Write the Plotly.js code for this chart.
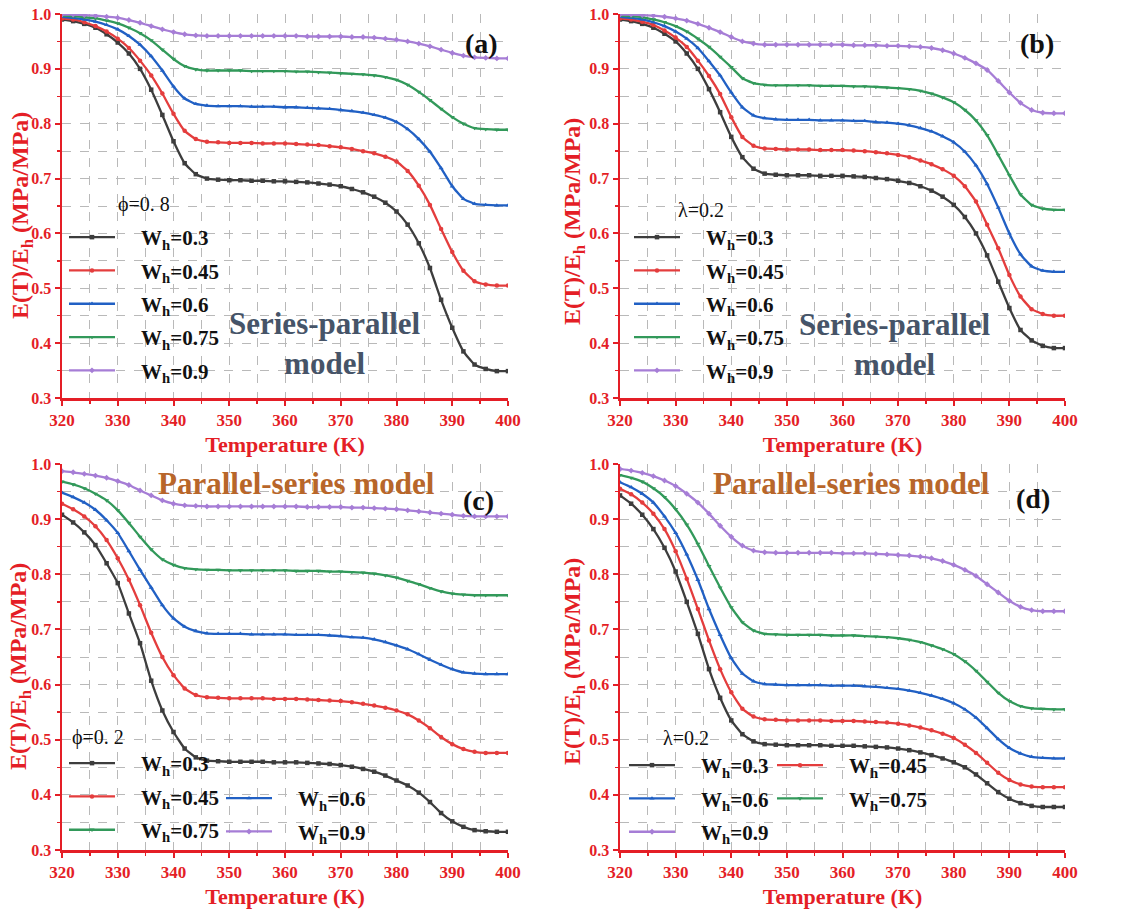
<!DOCTYPE html>
<html>
<head>
<meta charset="utf-8">
<script src="https://cdn.plot.ly/plotly-3.0.1.min.js"></script>
<style>html,body{margin:0;padding:0;background:#fff;}#chart{width:1121px;height:911px;}</style>
</head>
<body>
<div id="chart"></div>
<script>
// Temperature (K)
const temps = [320,322,324,326,328,330,332,334,336,338,340,342,344,346,348,350,352,354,356,358,360,362,364,366,368,370,372,374,376,378,380,382,384,386,388,390,392,394,396,398,400];
const seriesLabels = ['W<sub>h</sub>=0.3','W<sub>h</sub>=0.45','W<sub>h</sub>=0.6','W<sub>h</sub>=0.75','W<sub>h</sub>=0.9'];

// (a) Series-parallel model, phi = 0.8
const a_w030 = [0.990,0.987,0.982,0.975,0.963,0.948,0.928,0.900,0.862,0.816,0.768,0.728,0.708,0.700,0.698,0.697,0.697,0.696,0.696,0.695,0.695,0.694,0.693,0.691,0.689,0.686,0.681,0.675,0.667,0.656,0.640,0.616,0.582,0.537,0.479,0.428,0.385,0.361,0.353,0.349,0.349];
const a_w045 = [0.992,0.990,0.985,0.978,0.968,0.955,0.938,0.915,0.888,0.855,0.818,0.787,0.772,0.767,0.766,0.765,0.765,0.765,0.764,0.764,0.764,0.763,0.762,0.761,0.759,0.757,0.754,0.750,0.746,0.740,0.731,0.714,0.687,0.652,0.608,0.566,0.532,0.513,0.507,0.505,0.505];
const a_w060 = [0.995,0.993,0.990,0.986,0.980,0.972,0.960,0.944,0.923,0.897,0.868,0.846,0.836,0.833,0.832,0.832,0.832,0.831,0.831,0.831,0.830,0.830,0.829,0.828,0.827,0.825,0.823,0.820,0.816,0.811,0.803,0.790,0.772,0.749,0.719,0.686,0.663,0.654,0.652,0.651,0.651];
const a_w075 = [0.997,0.996,0.994,0.992,0.988,0.983,0.975,0.965,0.952,0.935,0.918,0.905,0.899,0.897,0.897,0.897,0.897,0.896,0.896,0.896,0.896,0.895,0.895,0.894,0.893,0.892,0.891,0.890,0.888,0.885,0.880,0.871,0.858,0.843,0.827,0.812,0.800,0.792,0.790,0.789,0.789];
const a_w090 = [0.999,0.999,0.998,0.997,0.995,0.993,0.989,0.984,0.978,0.972,0.967,0.963,0.961,0.960,0.960,0.960,0.960,0.960,0.960,0.960,0.960,0.960,0.959,0.959,0.959,0.959,0.958,0.958,0.957,0.955,0.953,0.950,0.946,0.941,0.935,0.929,0.924,0.921,0.920,0.919,0.919];

// (b) Series-parallel model, lambda = 0.2
const b_w030 = [0.990,0.987,0.982,0.975,0.964,0.950,0.928,0.900,0.863,0.821,0.776,0.739,0.718,0.709,0.707,0.706,0.706,0.706,0.705,0.705,0.705,0.704,0.703,0.701,0.699,0.696,0.692,0.686,0.678,0.667,0.652,0.630,0.600,0.560,0.512,0.464,0.424,0.405,0.395,0.391,0.391];
const b_w045 = [0.992,0.990,0.986,0.980,0.970,0.957,0.940,0.915,0.887,0.854,0.812,0.776,0.760,0.755,0.754,0.753,0.753,0.753,0.752,0.752,0.752,0.751,0.750,0.748,0.746,0.743,0.739,0.733,0.726,0.717,0.705,0.686,0.658,0.616,0.573,0.524,0.485,0.462,0.453,0.450,0.450];
const b_w060 = [0.995,0.993,0.990,0.985,0.978,0.968,0.955,0.938,0.914,0.888,0.857,0.830,0.815,0.810,0.808,0.807,0.807,0.807,0.806,0.806,0.806,0.805,0.805,0.803,0.802,0.800,0.797,0.792,0.786,0.777,0.766,0.749,0.724,0.690,0.647,0.600,0.562,0.540,0.532,0.530,0.530];
const b_w075 = [0.997,0.996,0.994,0.990,0.985,0.978,0.968,0.955,0.940,0.922,0.903,0.883,0.874,0.871,0.870,0.870,0.870,0.870,0.869,0.869,0.869,0.868,0.868,0.867,0.866,0.865,0.863,0.860,0.855,0.848,0.839,0.825,0.806,0.779,0.743,0.706,0.671,0.652,0.645,0.643,0.643];
const b_w090 = [0.999,0.999,0.998,0.997,0.995,0.992,0.988,0.982,0.975,0.967,0.958,0.950,0.946,0.944,0.944,0.944,0.944,0.944,0.944,0.944,0.944,0.943,0.943,0.943,0.942,0.942,0.941,0.940,0.938,0.934,0.928,0.920,0.910,0.898,0.878,0.857,0.838,0.825,0.820,0.819,0.819];

// (c) Parallel-series model, phi = 0.2
const c_w030 = [0.908,0.894,0.876,0.853,0.820,0.784,0.729,0.675,0.607,0.553,0.514,0.484,0.468,0.462,0.461,0.460,0.460,0.460,0.460,0.459,0.459,0.459,0.458,0.457,0.456,0.454,0.451,0.447,0.442,0.435,0.426,0.417,0.404,0.387,0.367,0.352,0.342,0.336,0.334,0.333,0.333];
const c_w045 = [0.928,0.918,0.905,0.887,0.862,0.829,0.790,0.744,0.694,0.650,0.617,0.593,0.581,0.577,0.576,0.575,0.575,0.575,0.575,0.574,0.574,0.574,0.573,0.572,0.571,0.570,0.568,0.565,0.562,0.558,0.553,0.546,0.535,0.521,0.505,0.492,0.483,0.478,0.476,0.476,0.476];
const c_w060 = [0.948,0.940,0.930,0.917,0.898,0.875,0.842,0.808,0.776,0.744,0.720,0.705,0.697,0.693,0.692,0.692,0.692,0.691,0.691,0.691,0.691,0.690,0.690,0.690,0.689,0.688,0.686,0.685,0.682,0.677,0.671,0.664,0.655,0.645,0.636,0.628,0.622,0.620,0.619,0.619,0.619];
const c_w075 = [0.968,0.963,0.956,0.946,0.934,0.916,0.893,0.868,0.845,0.827,0.817,0.811,0.809,0.808,0.808,0.807,0.807,0.807,0.807,0.807,0.807,0.806,0.806,0.806,0.805,0.805,0.804,0.803,0.801,0.798,0.794,0.788,0.782,0.775,0.769,0.765,0.763,0.762,0.762,0.762,0.762];
const c_w090 = [0.987,0.985,0.982,0.979,0.975,0.969,0.962,0.952,0.943,0.934,0.928,0.925,0.924,0.923,0.923,0.923,0.923,0.923,0.923,0.923,0.923,0.923,0.922,0.922,0.922,0.922,0.921,0.921,0.920,0.919,0.918,0.916,0.914,0.912,0.910,0.908,0.906,0.905,0.905,0.905,0.905];

// (d) Parallel-series model, lambda = 0.2
const d_w030 = [0.943,0.928,0.908,0.882,0.848,0.805,0.750,0.692,0.628,0.576,0.535,0.510,0.497,0.492,0.491,0.490,0.490,0.490,0.490,0.489,0.489,0.489,0.488,0.487,0.486,0.484,0.481,0.477,0.472,0.466,0.459,0.450,0.437,0.421,0.405,0.393,0.385,0.380,0.378,0.378,0.378];
const d_w045 = [0.955,0.945,0.930,0.910,0.882,0.842,0.792,0.737,0.680,0.628,0.586,0.556,0.542,0.537,0.536,0.535,0.535,0.535,0.535,0.534,0.534,0.534,0.533,0.532,0.531,0.529,0.526,0.522,0.517,0.511,0.503,0.491,0.476,0.458,0.440,0.427,0.419,0.415,0.414,0.414,0.414];
const d_w060 = [0.967,0.958,0.946,0.930,0.905,0.875,0.836,0.790,0.737,0.690,0.648,0.620,0.606,0.601,0.600,0.599,0.599,0.599,0.599,0.598,0.598,0.598,0.597,0.596,0.594,0.592,0.589,0.585,0.580,0.574,0.566,0.555,0.540,0.521,0.501,0.485,0.475,0.469,0.467,0.466,0.466];
const d_w075 = [0.980,0.975,0.968,0.956,0.940,0.918,0.890,0.855,0.815,0.776,0.740,0.713,0.698,0.692,0.691,0.690,0.690,0.690,0.690,0.689,0.689,0.689,0.688,0.687,0.686,0.684,0.681,0.677,0.671,0.664,0.655,0.642,0.625,0.605,0.585,0.570,0.561,0.557,0.556,0.555,0.555];
const d_w090 = [0.991,0.988,0.984,0.978,0.970,0.960,0.946,0.930,0.910,0.888,0.868,0.852,0.843,0.840,0.839,0.839,0.839,0.839,0.839,0.839,0.838,0.838,0.838,0.837,0.836,0.835,0.834,0.832,0.829,0.824,0.817,0.808,0.797,0.782,0.767,0.752,0.741,0.735,0.733,0.733,0.733];

const xTickVals = [320,330,340,350,360,370,380,390,400];
const yTickVals = [0.3,0.4,0.5,0.6,0.7,0.8,0.9,1.0];
const yTickText = ['0.3','0.4','0.5','0.6','0.7','0.8','0.9','1.0'];
const xTitle = 'Temperature (K)';
const yTitle = 'E(T)/E<sub>h</sub> (MPa/MPa)';

const W = 1121, H = 911;
const FONT = 'Liberation Serif';
const RED = '#e41e26', BLUE = '#1e22d8';
const colors = ['#3d3d3d','#e43d3d','#2160c4','#32995a','#a67dd6'];
const symbols = ['square','circle','triangle-up','triangle-down','diamond'];

const panels = [
  {series:[a_w030,a_w045,a_w060,a_w075,a_w090], xa:'x', ya:'y', legends:['legend','legend','legend','legend','legend']},
  {series:[b_w030,b_w045,b_w060,b_w075,b_w090], xa:'x2', ya:'y2', legends:['legend2','legend2','legend2','legend2','legend2']},
  {series:[c_w030,c_w045,c_w060,c_w075,c_w090], xa:'x3', ya:'y3', legends:['legend3','legend3','legend4','legend3','legend4']},
  {series:[d_w030,d_w045,d_w060,d_w075,d_w090], xa:'x4', ya:'y4', legends:['legend5','legend6','legend5','legend6','legend5']}
];

const GAP = '\u2002\u2002';
const traces = [];
panels.forEach((p, pi) => {
  p.series.forEach((vals, si) => {
    traces.push({
      x: temps, y: vals, xaxis: p.xa, yaxis: p.ya,
      type: 'scatter', mode: 'lines+markers',
      name: GAP + seriesLabels[si],
      legend: p.legends[si],
      legendgroup: 'p' + pi + 's' + si,
      line: {color: colors[si], width: 2.3, shape: 'spline', smoothing: 0.4},
      marker: {color: colors[si], size: 4.5, symbol: symbols[si]}
    });
  });
});

const px = v => v / W;
const py = v => 1 - v / H;

const xDom = [[px(62), px(508)], [px(620), px(1065)]];
const yDom = [[py(398), py(14)], [py(850), py(464)]];

function mainX(dom, anchor) {
  return {
    domain: dom, anchor: anchor, range: [320, 400], tickmode: 'array', tickvals: xTickVals,
    ticks: 'outside', ticklen: 5, tickwidth: 2, tickcolor: RED,
    showline: true, linecolor: RED, linewidth: 2.5, zeroline: false,
    showgrid: true, gridcolor: '#b9b9b9', gridwidth: 1, griddash: 'dash',
    minor: {dtick: 5, tick0: 320, ticks: 'outside', ticklen: 3, tickwidth: 1.5, tickcolor: RED, showgrid: true, gridcolor: '#b9b9b9', gridwidth: 1, griddash: 'dash'},
    tickfont: {family: FONT, size: 17, color: RED, weight: 'bold'},
    title: {text: xTitle, font: {family: FONT, size: 22, color: RED, weight: 'bold'}, standoff: 8}
  };
}
function mainY(dom, anchor) {
  return {
    domain: dom, anchor: anchor, range: [0.3, 1.0], tickmode: 'array', tickvals: yTickVals, ticktext: yTickText,
    ticks: 'outside', ticklen: 5, tickwidth: 2, tickcolor: RED,
    showline: true, linecolor: RED, linewidth: 2.5, zeroline: false,
    showgrid: true, gridcolor: '#b9b9b9', gridwidth: 1, griddash: 'dash',
    minor: {dtick: 0.05, tick0: 0.3, ticks: 'outside', ticklen: 3, tickwidth: 1.5, tickcolor: RED, showgrid: true, gridcolor: '#b9b9b9', gridwidth: 1, griddash: 'dash'},
    tickfont: {family: FONT, size: 16, color: RED, weight: 'bold'}
  };
}
function topX(over, anchor) {
  return {
    overlaying: over, anchor: anchor, side: 'top', range: [320, 400], tickmode: 'array', tickvals: xTickVals,
    ticks: 'inside', ticklen: 5, tickwidth: 2, tickcolor: BLUE, showticklabels: false,
    showline: true, linecolor: BLUE, linewidth: 2.5, zeroline: false, showgrid: false,
    minor: {dtick: 5, tick0: 320, ticks: 'inside', ticklen: 3, tickwidth: 1.5, tickcolor: BLUE, showgrid: false}
  };
}
function rightY(over, anchor) {
  return {
    overlaying: over, anchor: anchor, side: 'right', range: [0.3, 1.0], tickmode: 'array', tickvals: yTickVals,
    ticks: 'inside', ticklen: 5, tickwidth: 2, tickcolor: BLUE, showticklabels: false,
    showline: true, linecolor: BLUE, linewidth: 2.5, zeroline: false, showgrid: false,
    minor: {dtick: 0.05, tick0: 0.3, ticks: 'inside', ticklen: 3, tickwidth: 1.5, tickcolor: BLUE, showgrid: false}
  };
}

function legendAt(x, y) {
  return {
    x: px(x), y: py(y), xanchor: 'left', yanchor: 'top', bgcolor: 'rgba(0,0,0,0)', borderwidth: 0,
    font: {family: FONT, size: 21, color: '#111', weight: 'bold'},
    itemwidth: 46, tracegroupgap: 3, traceorder: 'grouped', itemclick: false
  };
}

function ann(text, x, y, size, color, bold, xanchor, angle) {
  return {
    text: text, x: px(x), y: py(y), xref: 'paper', yref: 'paper', showarrow: false,
    xanchor: xanchor || 'center', yanchor: 'middle', textangle: angle || 0,
    font: {family: FONT, size: size, color: color, weight: bold ? 'bold' : 'normal'}
  };
}

const SPC = '#465468', PSC = '#b8662a';
const layout = {
  width: W, height: H, margin: {l: 0, r: 0, t: 0, b: 0},
  paper_bgcolor: '#fff', plot_bgcolor: '#fff',
  font: {family: FONT},
  showlegend: true,
  xaxis: mainX(xDom[0], 'y'), yaxis: mainY(yDom[0], 'x'),
  xaxis2: mainX(xDom[1], 'y2'), yaxis2: mainY(yDom[0], 'x2'),
  xaxis3: mainX(xDom[0], 'y3'), yaxis3: mainY(yDom[1], 'x3'),
  xaxis4: mainX(xDom[1], 'y4'), yaxis4: mainY(yDom[1], 'x4'),
  xaxis5: topX('x', 'y'), yaxis5: rightY('y', 'x'),
  xaxis6: topX('x2', 'y2'), yaxis6: rightY('y2', 'x2'),
  xaxis7: topX('x3', 'y3'), yaxis7: rightY('y3', 'x3'),
  xaxis8: topX('x4', 'y4'), yaxis8: rightY('y4', 'x4'),
  legend: legendAt(64, 217),
  legend2: legendAt(629, 217),
  legend3: legendAt(64, 743),
  legend4: legendAt(221, 778),
  legend5: legendAt(624, 745),
  legend6: legendAt(772, 745),
  annotations: [
    ann(yTitle, 22, 216, 24, RED, true, 'center', -90),
    ann(yTitle, 574, 222, 24, RED, true, 'center', -90),
    ann(yTitle, 20, 667, 24, RED, true, 'center', -90),
    ann(yTitle, 574, 662, 24, RED, true, 'center', -90),
    ann('(a)', 482, 43, 28, '#111', true),
    ann('(b)', 1037, 43, 28, '#111', true),
    ann('(c)', 478, 500, 28, '#111', true),
    ann('(d)', 1033, 498, 28, '#111', true),
    ann('Series-parallel<br>model', 325, 343, 31, SPC, true),
    ann('Series-parallel<br>model', 895, 344, 31, SPC, true),
    ann('Parallel-series model', 296, 483, 31, PSC, true),
    ann('Parallel-series model', 851, 483, 31, PSC, true),
    ann('ϕ=0. 8', 116, 205, 20, '#111', false, 'left'),
    ann('λ=0.2', 676, 210, 20, '#111', false, 'left'),
    ann('ϕ=0. 2', 70, 737, 20, '#111', false, 'left'),
    ann('λ=0.2', 661, 738, 20, '#111', false, 'left')
  ]
};

Plotly.newPlot('chart', traces, layout, {displayModeBar: false, staticPlot: true});
</script>
</body>
</html>
